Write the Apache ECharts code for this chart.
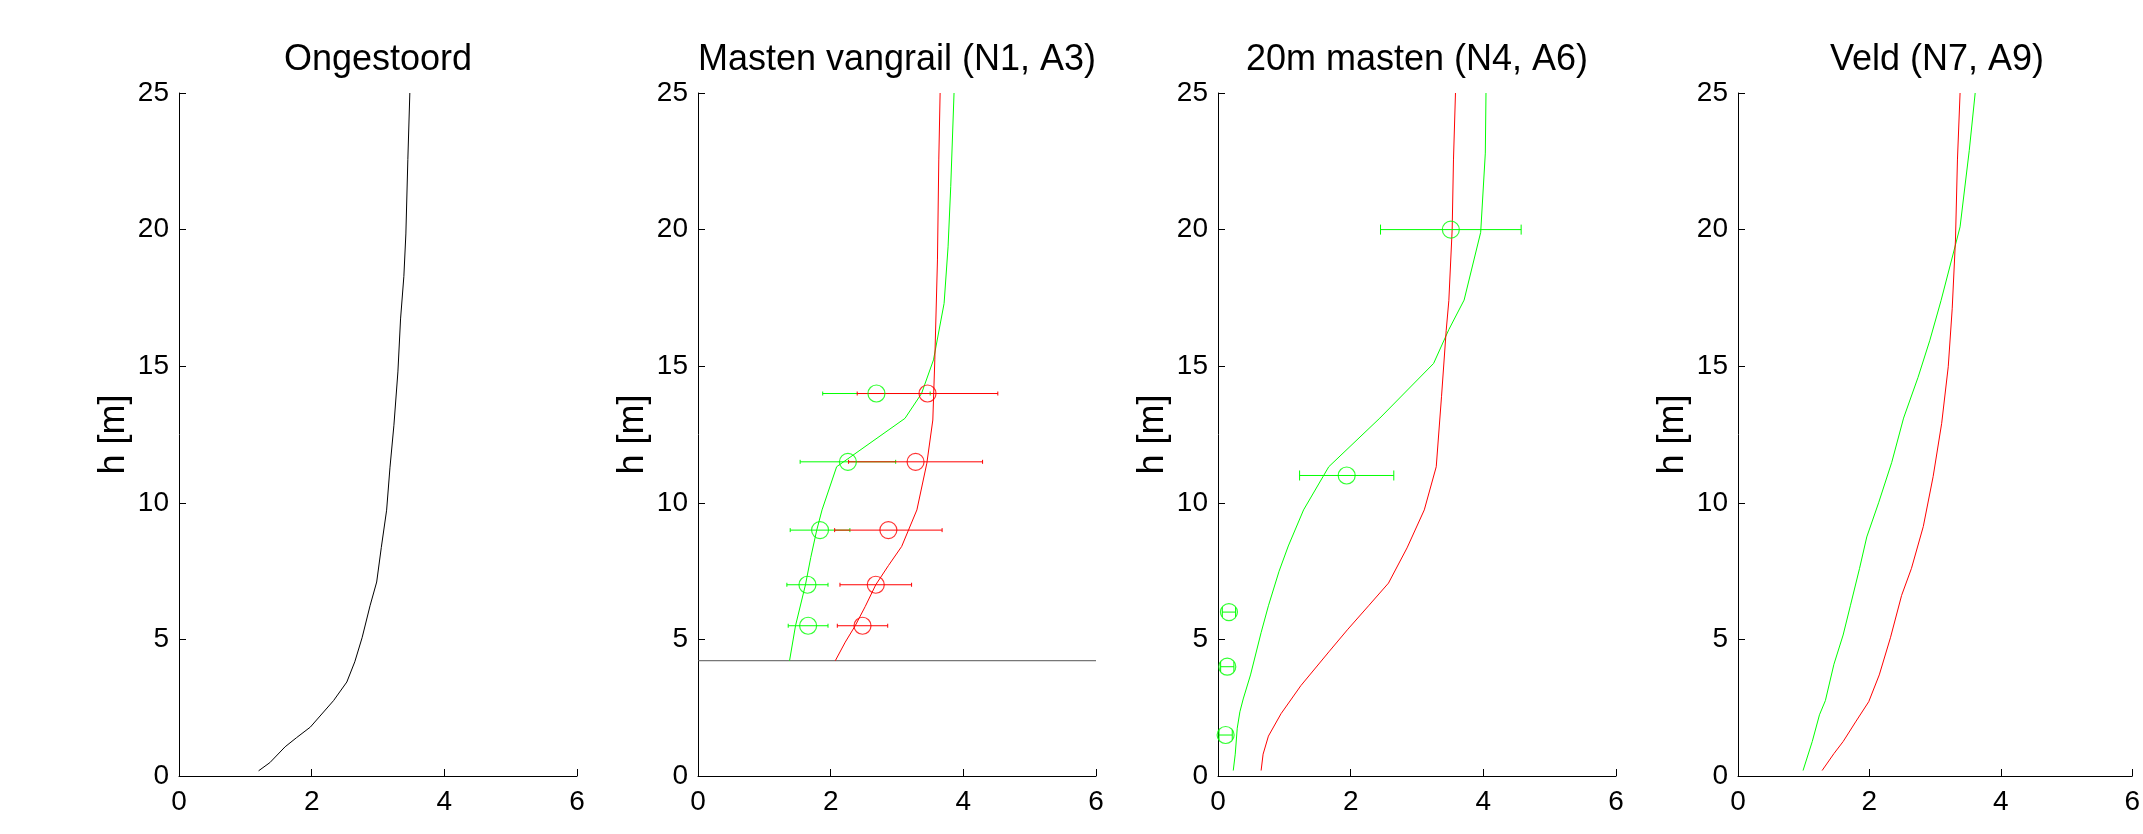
<!DOCTYPE html>
<html>
<head>
<meta charset="utf-8">
<script src="https://cdn.jsdelivr.net/npm/echarts@6/dist/echarts.min.js"></script>
<style>
  html, body { margin: 0; padding: 0; background: #fff; }
  #chart { width: 2143px; height: 834px; }
</style>
</head>
<body>
<div id="chart"></div>
<script>
// panel titles
var titles = ['Ongestoord', 'Masten vangrail (N1, A3)', '20m masten (N4, A6)', 'Veld (N7, A9)'];

// axis ticks
var xTicks = [0, 2, 4, 6];
var yTicks = [0, 5, 10, 15, 20, 25];

// paneel 1: ongestoord profiel (u, h)
var p1U = [1.20, 1.37, 1.60, 1.77, 1.98, 2.33, 2.53, 2.65, 2.76, 2.88, 2.98, 3.05, 3.13, 3.18, 3.24, 3.30, 3.34, 3.39, 3.42, 3.45, 3.48];
var p1H = [0.19, 0.49, 1.07, 1.40, 1.79, 2.76, 3.44, 4.18, 5.06, 6.23, 7.10, 8.37, 9.73, 11.28, 12.84, 14.79, 16.73, 18.29, 19.84, 22.57, 25];

// paneel 2: masten vangrail
var p2GreenU = [1.38, 1.47, 1.62, 1.70, 1.79, 1.87, 2.09, 3.12, 3.37, 3.55, 3.71, 3.77, 3.81, 3.86];
var p2GreenH = [4.22, 5.5, 7.0, 8.0, 9.0, 9.74, 11.32, 13.09, 14.0, 15.23, 17.3, 19.37, 21.57, 25];
var p2RedU = [2.07, 2.22, 2.37, 2.52, 2.68, 2.87, 3.07, 3.30, 3.45, 3.54, 3.57, 3.61, 3.63, 3.65];
var p2RedH = [4.22, 4.9, 5.5, 6.2, 7.0, 7.7, 8.4, 9.74, 11.45, 13.03, 15.23, 18.89, 22.55, 25];
var p2BaseH = [4.22];
var p2ObsH = [14, 11.5, 9, 7, 5.5];
var p2ObsGreenU = [2.69, 2.26, 1.84, 1.65, 1.66];
var p2ObsGreenErr = [0.81, 0.72, 0.45, 0.31, 0.30];
var p2ObsRedU = [3.46, 3.28, 2.87, 2.68, 2.48];
var p2ObsRedErr = [1.06, 1.01, 0.81, 0.54, 0.38];

// paneel 3: 20m masten
var p3GreenU = [0.23, 0.26, 0.29, 0.33, 0.38, 0.49, 0.65, 0.76, 0.92, 1.06, 1.29, 1.67, 2.44, 3.25, 3.48, 3.71, 3.96, 4.03, 4.04];
var p3GreenH = [0.2, 0.8, 1.75, 2.35, 2.82, 3.7, 5.25, 6.23, 7.49, 8.42, 9.74, 11.32, 13.1, 15.1, 16.34, 17.42, 19.9, 22.8, 25];
var p3RedU = [0.65, 0.68, 0.76, 0.95, 1.25, 1.68, 1.95, 2.27, 2.57, 2.85, 3.11, 3.29, 3.37, 3.44, 3.48, 3.53, 3.55, 3.58];
var p3RedH = [0.2, 0.8, 1.46, 2.28, 3.31, 4.57, 5.35, 6.23, 7.06, 8.35, 9.74, 11.32, 13.9, 16.3, 17.4, 20.0, 22.55, 25];
var p3ObsH = [20, 11, 6, 4, 1.5];
var p3ObsGreenU = [3.51, 1.94, 0.165, 0.14, 0.115];
var p3ObsGreenErr = [1.06, 0.71, 0.1, 0.1, 0.1];

// paneel 4: veld
var p4GreenU = [0.99, 1.13, 1.24, 1.33, 1.46, 1.60, 1.71, 1.85, 1.96, 2.14, 2.34, 2.52, 2.74, 2.92, 3.09, 3.27, 3.38, 3.52, 3.61];
var p4GreenH = [0.2, 1.26, 2.24, 2.76, 4.09, 5.16, 6.23, 7.6, 8.75, 10.0, 11.48, 13.1, 14.59, 15.95, 17.4, 19.07, 20.1, 22.9, 25];
var p4RedU = [1.28, 1.46, 1.60, 1.79, 1.99, 2.15, 2.32, 2.49, 2.64, 2.82, 2.97, 3.10, 3.20, 3.26, 3.31, 3.34, 3.38];
var p4RedH = [0.2, 0.82, 1.26, 1.98, 2.72, 3.7, 5.06, 6.61, 7.6, 9.13, 10.96, 12.91, 14.98, 17.1, 19.62, 22.55, 25];

var FONT = 'Liberation Sans, Arial, Helvetica, sans-serif';
var GREEN = '#00ff00';
var RED = '#ff0000';
var gridLeft = [179, 698, 1218, 1738];
var gridW = 398, gridTop = 93, gridH = 683;

function pairs(us, hs) {
  return us.map(function (u, i) { return [u, hs[i]]; });
}

function lineSeries(idx, us, hs, color) {
  return {
    type: 'line', xAxisIndex: idx, yAxisIndex: idx,
    data: pairs(us, hs), showSymbol: false, symbol: 'none',
    lineStyle: { color: color, width: 1 }, silent: true, z: 3
  };
}

function markerSeries(idx, us, hs, color) {
  return {
    type: 'scatter', xAxisIndex: idx, yAxisIndex: idx,
    data: pairs(us, hs), symbol: 'circle', symbolSize: 17,
    itemStyle: { color: 'transparent', borderColor: color, borderWidth: 1.2 },
    silent: true, z: 5
  };
}

// horizontale foutbalken met kleine kapjes
function errorSeries(idx, us, errs, hs, color, cap) {
  return {
    type: 'custom', xAxisIndex: idx, yAxisIndex: idx,
    data: us.map(function (u, i) { return [u - errs[i], u + errs[i], hs[i]]; }),
    encode: { x: [0, 1], y: 2 },
    renderItem: function (params, api) {
      var a = api.coord([api.value(0), api.value(2)]);
      var b = api.coord([api.value(1), api.value(2)]);
      var st = { stroke: color, lineWidth: 1 };
      return {
        type: 'group',
        children: [
          { type: 'line', shape: { x1: a[0], y1: a[1], x2: b[0], y2: b[1] }, style: st },
          { type: 'line', shape: { x1: a[0], y1: a[1] - cap, x2: a[0], y2: a[1] + cap }, style: st },
          { type: 'line', shape: { x1: b[0], y1: b[1] - cap, x2: b[0], y2: b[1] + cap }, style: st }
        ]
      };
    },
    silent: true, z: 4
  };
}

var grids = [], xAxes = [], yAxes = [], titleList = [];
for (var i = 0; i < 4; i++) {
  grids.push({ left: gridLeft[i], top: gridTop, width: gridW, height: gridH, containLabel: false });
  titleList.push({
    text: titles[i], left: gridLeft[i] + gridW / 2, top: 42, textAlign: 'center', padding: 0,
    textStyle: { fontFamily: FONT, fontSize: 36, fontWeight: 'normal', color: '#000' }
  });
  xAxes.push({
    type: 'value', gridIndex: i, min: xTicks[0], max: xTicks[xTicks.length - 1], interval: 2,
    axisLine: { show: true, onZero: false, lineStyle: { color: '#000', width: 1 } },
    axisTick: { show: true, inside: true, length: 7, lineStyle: { color: '#000' } },
    axisLabel: { fontFamily: FONT, fontSize: 28, color: '#000', margin: 12 },
    splitLine: { show: false }
  });
  yAxes.push({
    type: 'value', gridIndex: i, min: yTicks[0], max: yTicks[yTicks.length - 1], interval: 5,
    name: 'h [m]', nameLocation: 'middle', nameRotate: 90, nameGap: 47,
    nameTextStyle: { fontFamily: FONT, fontSize: 36, color: '#000' },
    axisLine: { show: true, onZero: false, lineStyle: { color: '#000', width: 1 } },
    axisTick: { show: true, inside: true, length: 7, lineStyle: { color: '#000' } },
    axisLabel: { fontFamily: FONT, fontSize: 28, color: '#000', margin: 10 },
    splitLine: { show: false }
  });
}

var xLo = xTicks[0], xHi = xTicks[xTicks.length - 1];

var series = [
  lineSeries(0, p1U, p1H, '#000'),

  lineSeries(1, [xLo, xHi], [p2BaseH[0], p2BaseH[0]], '#555'),
  lineSeries(1, p2GreenU, p2GreenH, GREEN),
  lineSeries(1, p2RedU, p2RedH, RED),
  errorSeries(1, p2ObsGreenU, p2ObsGreenErr, p2ObsH, GREEN, 2),
  errorSeries(1, p2ObsRedU, p2ObsRedErr, p2ObsH, RED, 2),
  markerSeries(1, p2ObsGreenU, p2ObsH, GREEN),
  markerSeries(1, p2ObsRedU, p2ObsH, RED),

  lineSeries(2, p3GreenU, p3GreenH, GREEN),
  lineSeries(2, p3RedU, p3RedH, RED),
  errorSeries(2, p3ObsGreenU, p3ObsGreenErr, p3ObsH, GREEN, 5),
  markerSeries(2, p3ObsGreenU, p3ObsH, GREEN),

  lineSeries(3, p4GreenU, p4GreenH, GREEN),
  lineSeries(3, p4RedU, p4RedH, RED)
];

var chart = echarts.init(document.getElementById('chart'));
chart.setOption({
  animation: false,
  backgroundColor: '#fff',
  title: titleList,
  grid: grids,
  xAxis: xAxes,
  yAxis: yAxes,
  series: series
});
</script>
</body>
</html>
